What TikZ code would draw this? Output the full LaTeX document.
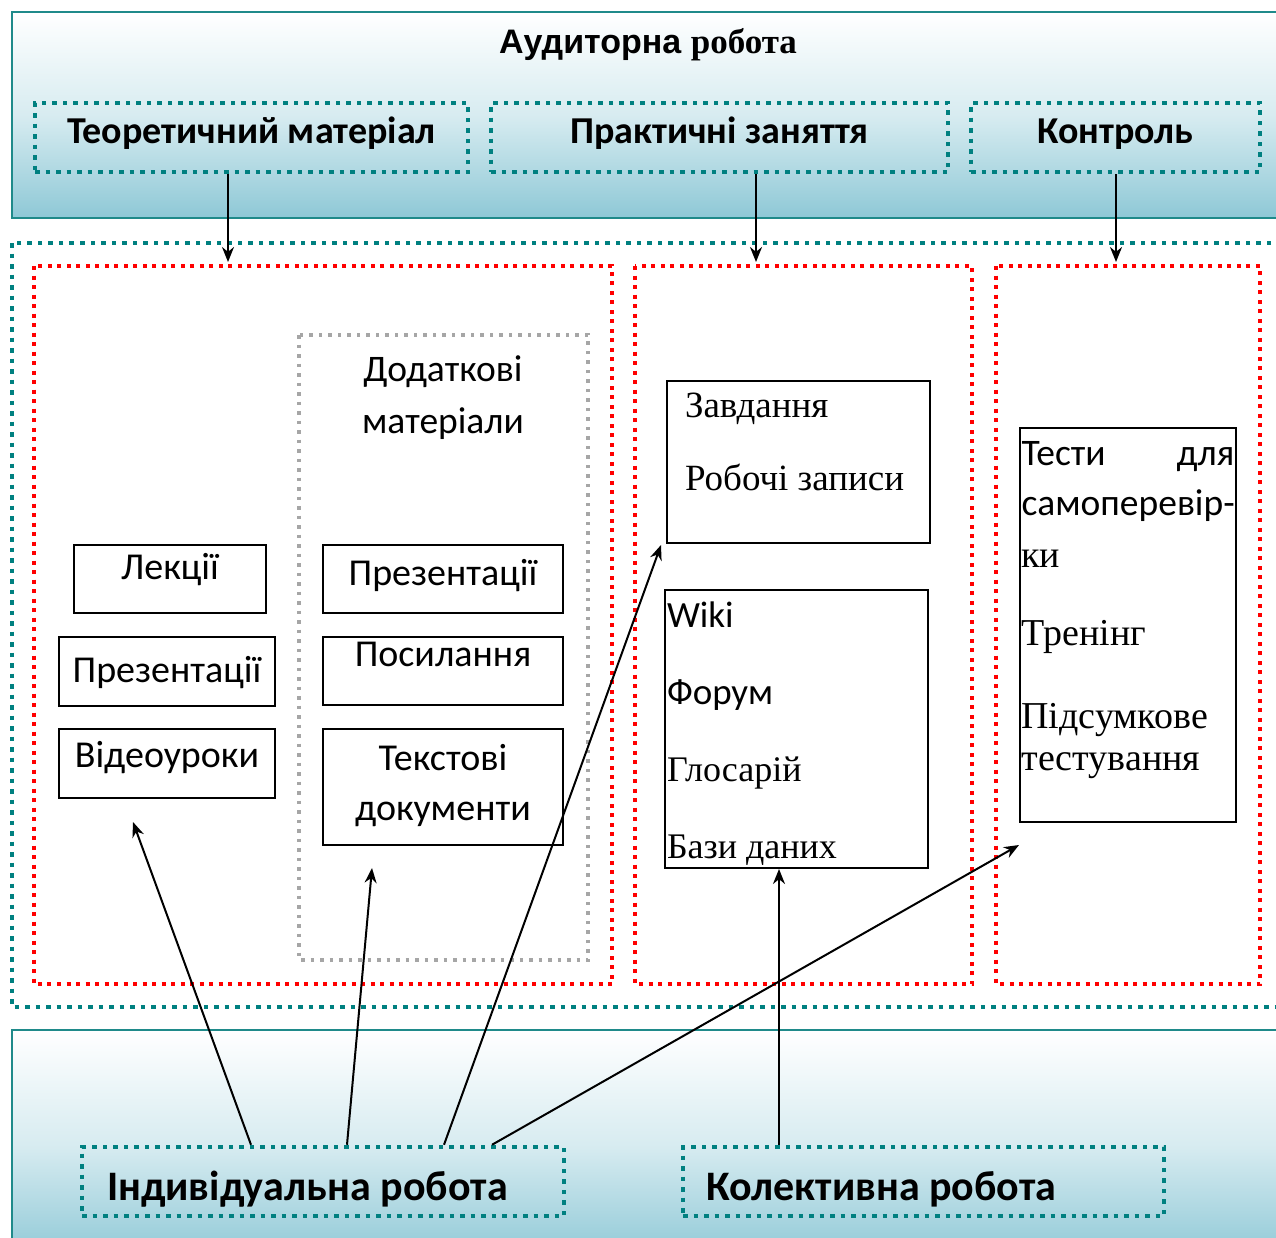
\documentclass[tikz,border=0pt]{standalone}
\usepackage{fontspec}
\setmainfont{Liberation Serif}
\newfontfamily\calibri{Carlito}
\newfontfamily\arialf{Liberation Sans}
\usetikzlibrary{positioning, arrows.meta}

\definecolor{tealline}{RGB}{31,138,138}
\definecolor{tealdot}{RGB}{0,128,128}
\definecolor{boxblue}{RGB}{142,200,214}
\definecolor{reddot}{RGB}{255,0,0}
\definecolor{graydot}{RGB}{166,166,166}

\tikzset{
    band/.style={draw=tealline, line width=2.5pt, top color=white, bottom color=boxblue, middle color=boxblue!35},
    tealbox/.style={draw=tealdot, line width=4.5pt, dash pattern=on 4.5pt off 6pt, inner sep=0pt},
    redbox/.style={draw=reddot, line width=4pt, dash pattern=on 4pt off 5.5pt},
    graybox/.style={draw=graydot, line width=3.5pt, dash pattern=on 3.5pt off 6pt},
    hdr/.style={tealbox, font=\calibri\bfseries\fontsize{38}{42}\selectfont, text height=26pt, text depth=15pt},
    work/.style={tealbox, font=\calibri\bfseries\fontsize{42}{46}\selectfont, align=flush left, text height=40pt, text depth=3pt},
    tbox/.style={draw, line width=2pt, inner sep=0pt, text height=25pt},
    sbox/.style={tbox, font=\calibri\fontsize{38}{50}\selectfont},
    arr/.style={line width=2pt, -{Stealth[length=15pt, width=12pt]}},
}

\begin{document}
\begin{tikzpicture}[x=1pt, y=-1pt]
    \useasboundingbox (0,0) rectangle (1276,1237);
    % bands
    \draw[band] (12,12) rectangle (1295,218);
    \draw[band] (12,1030) rectangle (1295,1260);
    % areas
    \draw[tealbox] (12,243) rectangle (1295,1007);
    \draw[redbox] (34,266) rectangle (612,984);
    \draw[redbox] (635,266) rectangle (972,984);
    \draw[redbox] (996,266) rectangle (1260,984);
    \draw[graybox] (299,335) rectangle (588,960);

    \node (aud) at (648,45) {\arialf\bfseries\fontsize{34}{38}\selectfont Аудиторна \rmfamily\fontsize{35}{38}\selectfont робота};
    \node[hdr, minimum width=433pt, minimum height=69pt] (teor) at (251.5,137.5) {Теоретичний матеріал};
    \node[hdr, minimum width=457pt, minimum height=69pt] (prakt) at (719.5,137.5) {Практичні заняття};
    \node[hdr, minimum width=289pt, minimum height=69pt] (kontr) at (1115.5,137.5) {Контроль};

    % theory
    \node[sbox, minimum width=192pt, minimum height=68pt, text depth=25pt] (lek) at (170,579) {Лекції};
    \node[sbox, minimum width=216pt, minimum height=69pt, text depth=4pt] (prez) at (167,671.5) {Презентації};
    \node[sbox, minimum width=216pt, minimum height=69pt, text depth=18pt] (video) at (167,763.5) {Відеоуроки};
    \node[align=center, font=\calibri\fontsize{37.5}{52}\selectfont] (dodat) at (443,398) {Додаткові\\матеріали};
    \node[sbox, minimum width=240pt, minimum height=68pt, text depth=13pt] (prezd) at (443,579) {Презентації};
    \node[sbox, minimum width=240pt, minimum height=68pt, text depth=35pt] (posyl) at (443,671) {Посилання};
    \node[sbox, minimum width=240pt, minimum height=116pt, text width=240pt, align=center, text depth=59pt] (tekst) at (443,787) {Текстові\\документи};

    % practice
    \node[tbox, font=\fontsize{37}{73}\selectfont, minimum width=263pt, minimum height=162pt, inner xsep=18pt, text width=227pt, align=flush left, text depth=115pt] (zavd) at (798.5,462) {Завдання\\Робочі записи};
    \node[tbox, font=\fontsize{36}{77}\selectfont, minimum width=263pt, minimum height=278pt, inner xsep=2pt, text width=259pt, align=flush left, text depth=229pt] (wiki) at (796.5,729) {{\calibri\fontsize{37}{77}\selectfont Wiki}\\{\calibri\fontsize{37}{77}\selectfont Форум}\\Глосарій\\Бази даних};

    % control
    \node[tbox, font=\fontsize{38}{50}\selectfont, minimum width=216pt, minimum height=394pt, inner xsep=1.5pt, text width=213pt, align=flush left, text depth=345pt] (testy) at (1128,625) {{\calibri\fontsize{37.5}{50}\selectfont Тести\hfill для}\\\mbox{\calibri\fontsize{37.5}{50}\selectfont самоперевір-}\\[2pt]ки\\[28pt]Тренінг\\[33pt]Підсумкове\\[-8pt]тестування};

    \node[work, minimum width=482pt, minimum height=69pt, inner xsep=25pt, text width=432pt] (indiv) at (323,1181.5) {Індивідуальна робота};
    \node[work, minimum width=481pt, minimum height=69pt, inner xsep=23pt, text width=435pt] (kolekt) at (923.5,1181.5) {Колективна робота};

    % arrows
    \coordinate (t1) at (228,262);
    \coordinate (t2) at (756,262);
    \coordinate (t3) at (1116,262);
    \draw[arr] ([xshift=-23.5pt]teor.south) -- (t1);
    \draw[arr] ([xshift=36.5pt]prakt.south) -- (t2);
    \draw[arr] ([xshift=0.5pt]kontr.south) -- (t3);

    \coordinate (i1) at (133,822);
    \coordinate (i2) at (372,868);
    \coordinate (i3) at (661,545);
    \coordinate (i4) at (1019,845);
    \draw[arr] ([xshift=-72pt]indiv.north) -- (i1);
    \draw[arr] ([xshift=24pt]indiv.north) -- (i2);
    \draw[arr] ([xshift=121pt]indiv.north) -- (i3);
    \draw[arr] ([xshift=169pt]indiv.north) -- (i4);
    \draw[arr] ([xshift=-144.5pt]kolekt.north) -- ([xshift=-17.5pt]wiki.south);
\end{tikzpicture}
\end{document}
